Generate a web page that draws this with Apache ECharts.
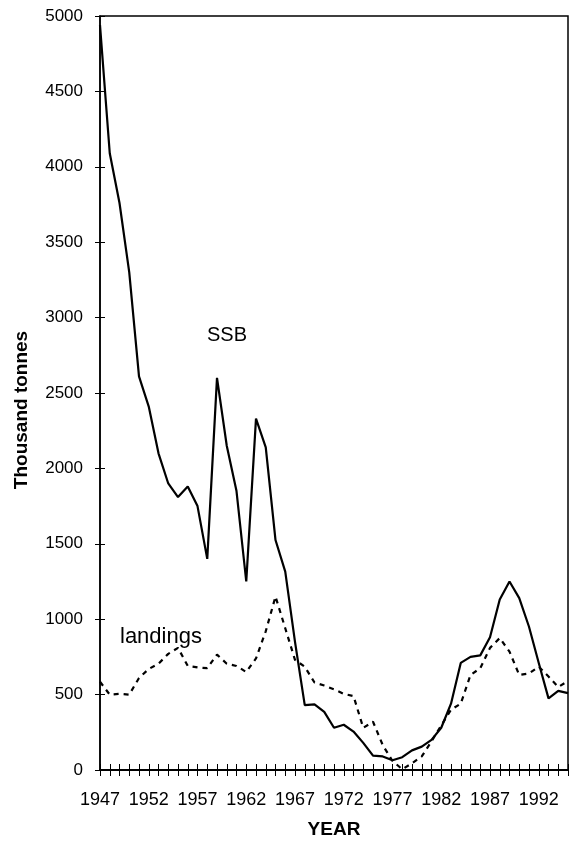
<!DOCTYPE html>
<html>
<head>
<meta charset="utf-8">
<script src="https://cdn.jsdelivr.net/npm/echarts@6/dist/echarts.min.js"></script>
<style>
html,body{margin:0;padding:0;background:#fff;}
#chart{width:569px;height:845px;}
</style>
</head>
<body>
<div id="chart"></div>
<script>
const years = ['1947','1948','1949','1950','1951','1952','1953','1954','1955','1956',
  '1957','1958','1959','1960','1961','1962','1963','1964','1965','1966',
  '1967','1968','1969','1970','1971','1972','1973','1974','1975','1976',
  '1977','1978','1979','1980','1981','1982','1983','1984','1985','1986',
  '1987','1988','1989','1990','1991','1992','1993','1994','1995'];

const ssb = [4940,4090,3760,3300,2610,2410,2100,1900,1810,1880,
  1750,1400,2600,2150,1850,1250,2330,2140,1525,1315,
  850,430,435,385,280,300,255,180,95,90,
  65,85,130,155,200,280,440,710,750,760,
  880,1130,1250,1140,950,710,475,525,510];

const landings = [585,500,505,500,610,670,705,770,810,690,
  680,675,765,705,690,650,740,920,1150,940,
  730,685,580,560,535,505,490,280,320,165,
  60,5,45,90,190,295,400,440,630,675,
  810,875,785,630,640,685,620,550,590];

const yTicks = {min:0, max:5000, interval:500};

const FONT = '"Liberation Sans", Arial, sans-serif';
const chart = echarts.init(document.getElementById('chart'), null, {renderer:'canvas'});

chart.setOption({
  animation:false,
  backgroundColor:'#fff',
  textStyle:{fontFamily:FONT, color:'#000'},
  grid:{left:100, right:1, top:16, bottom:75, show:true, borderColor:'#000', borderWidth:1.5},
  xAxis:[{
    type:'category', data:years, boundaryGap:false,
    axisLine:{lineStyle:{color:'#000', width:2}},
    axisTick:{interval:0, length:6, lineStyle:{color:'#000', width:1}},
    axisLabel:{interval:4, fontSize:18, color:'#000', margin:21, fontFamily:FONT},
    splitLine:{show:false},
    name:'YEAR', nameLocation:'middle', nameGap:50,
    nameTextStyle:{fontSize:19, fontWeight:'bold', color:'#000', fontFamily:FONT}
  },{
    type:'category', data:years, boundaryGap:false, position:'bottom',
    axisLine:{show:false},
    axisTick:{inside:true, interval:0, length:6, lineStyle:{color:'#000', width:1}},
    axisLabel:{show:false}, splitLine:{show:false}
  }],
  yAxis:[{
    type:'value', min:yTicks.min, max:yTicks.max, interval:yTicks.interval,
    axisLine:{show:true, lineStyle:{color:'#000', width:1.5}},
    axisTick:{show:true, length:5, lineStyle:{color:'#000', width:1}},
    axisLabel:{fontSize:17, color:'#000', margin:17, fontFamily:FONT,
      formatter:function(v){ return String(v); }},
    splitLine:{show:false}
  },{
    type:'value', min:yTicks.min, max:yTicks.max, interval:yTicks.interval, position:'left',
    axisLine:{show:false},
    axisTick:{show:true, inside:true, length:5, lineStyle:{color:'#000', width:1}},
    axisLabel:{show:false}, splitLine:{show:false}
  }],
  series:[{
    name:'SSB', type:'line', data:ssb, xAxisIndex:0, yAxisIndex:0,
    symbol:'none', lineStyle:{color:'#000', width:2.2}
  },{
    name:'landings', type:'line', data:landings, xAxisIndex:0, yAxisIndex:0,
    symbol:'none', lineStyle:{color:'#000', width:2.2, type:[5,5]}
  }],
  graphic:[{
    type:'text', left:207, top:325,
    style:{text:'SSB', font:'20px ' + FONT, fill:'#000'}
  },{
    type:'text', left:120, top:626,
    style:{text:'landings', font:'22px ' + FONT, fill:'#000'}
  },{
    type:'text', x:22, y:410, rotation:Math.PI/2,
    style:{text:'Thousand tonnes', font:'bold 19px ' + FONT, fill:'#000',
      textAlign:'center', textVerticalAlign:'middle'}
  }]
});
</script>
</body>
</html>
